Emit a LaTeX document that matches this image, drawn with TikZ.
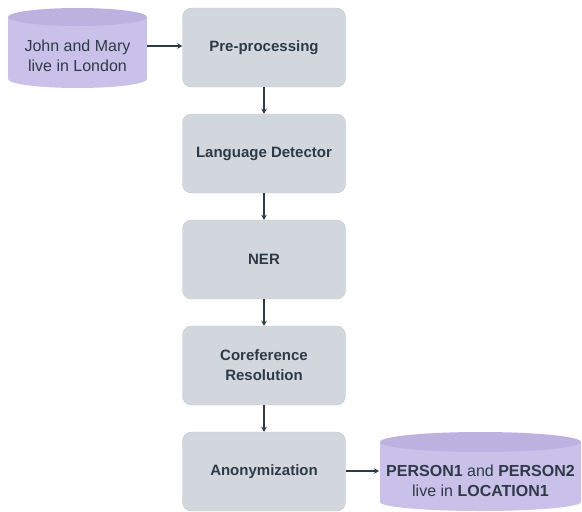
\documentclass[tikz,border=0pt]{standalone}
\usepackage{fontspec}
\setmainfont{Liberation Sans}
\usetikzlibrary{arrows.meta}
\definecolor{boxfill}{HTML}{D2D7DD}
\definecolor{boxline}{HTML}{C3C8CE}
\definecolor{txt}{HTML}{2E3A46}
\definecolor{cylbody}{HTML}{C9C1E9}
\definecolor{cyltop}{HTML}{BCB2E0}
\definecolor{arr}{HTML}{2E3A46}
\tikzset{
  stepbox/.style={draw=boxline, fill=boxfill, rounded corners=9pt, minimum width=163pt, minimum height=79pt, inner sep=0pt, text=txt, font=\bfseries\fontsize{15}{20}\selectfont, align=center},
  conn/.style={draw=arr, line width=1.8pt, -{Stealth[length=5pt,width=5.5pt]}},
  cyltext/.style={text=txt, font=\fontsize{16}{20}\selectfont, align=center, inner sep=0pt}
}
\begin{document}
\begin{tikzpicture}[x=1pt,y=-1pt]
\useasboundingbox (0,0) rectangle (582,512);
% input cylinder
\fill[cylbody] (8,17) -- (8,79) arc[start angle=180,end angle=360,x radius=69.5pt,y radius=9pt] -- (147,17) -- cycle;
\fill[cyltop] (77.5,17) ellipse [x radius=69.5pt, y radius=9pt];
\node[cyltext] (in) at (77.5,56) {John and Mary\\live in London};
\coordinate (inR) at (147,46);
% output cylinder
\fill[cylbody] (380,442) -- (380,502) arc[start angle=180,end angle=360,x radius=100.5pt,y radius=9pt] -- (581,442) -- cycle;
\fill[cyltop] (480.5,442) ellipse [x radius=100.5pt, y radius=10pt];
\node[cyltext] (out) at (480.5,481) {\textbf{PERSON1} and \textbf{PERSON2}\\live in \textbf{LOCATION1}};
\coordinate (outL) at (379,471);
% steps
\node[stepbox] (pre) at (264,47.5) {Pre-processing};
\node[stepbox] (lang) at (264,153.5) {Language Detector};
\node[stepbox] (ner) at (264,259.5) {NER};
\node[stepbox] (coref) at (264,365.5) {Coreference\\Resolution};
\node[stepbox] (anon) at (264,471.5) {Anonymization};
% connectors
\draw[conn] (inR) -- (inR -| pre.west);
\draw[conn] (pre) -- (lang);
\draw[conn] (lang) -- (ner);
\draw[conn] (ner) -- (coref);
\draw[conn] (coref) -- (anon);
\draw[conn] (anon.east |- outL) -- (outL);
\end{tikzpicture}
\end{document}
